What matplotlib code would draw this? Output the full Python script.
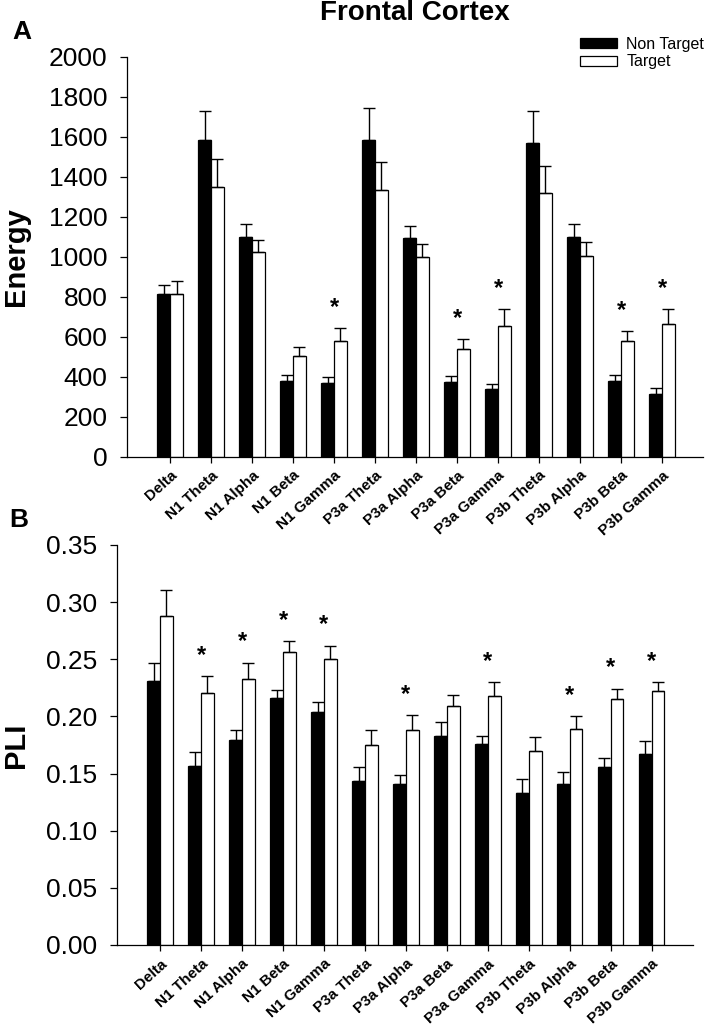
import numpy as np
import matplotlib
matplotlib.use('Agg')
import matplotlib.pyplot as plt
from matplotlib.ticker import FormatStrFormatter

plt.rcParams['font.family'] = ['Liberation Sans', 'DejaVu Sans']

bands = ['Delta', 'N1 Theta', 'N1 Alpha', 'N1 Beta', 'N1 Gamma',
         'P3a Theta', 'P3a Alpha', 'P3a Beta', 'P3a Gamma',
         'P3b Theta', 'P3b Alpha', 'P3b Beta', 'P3b Gamma']

# panel A - energy
energy_nt = [813, 1583, 1100, 380, 368, 1583, 1093, 375, 338, 1570, 1100, 380, 315]
energy_nt_err = [47, 147, 63, 30, 29, 159, 60, 28, 25, 160, 63, 30, 27]
energy_t = [813, 1350, 1023, 505, 577, 1332, 998, 538, 653, 1318, 1003, 577, 665]
energy_t_err = [67, 137, 59, 42, 65, 143, 65, 50, 84, 137, 72, 51, 72]
energy_sig = [4, 7, 8, 11, 12]

# panel B - PLI
pli_nt = [0.231, 0.157, 0.179, 0.2165, 0.204, 0.1435, 0.1406, 0.183, 0.176, 0.133, 0.1406, 0.156, 0.167]
pli_nt_err = [0.0155, 0.012, 0.009, 0.007, 0.009, 0.0125, 0.0084, 0.012, 0.0066, 0.012, 0.0108, 0.008, 0.0115]
pli_t = [0.288, 0.2205, 0.233, 0.256, 0.2505, 0.1747, 0.188, 0.209, 0.218, 0.170, 0.189, 0.215, 0.2226]
pli_t_err = [0.023, 0.0145, 0.014, 0.010, 0.0115, 0.0133, 0.0133, 0.010, 0.012, 0.012, 0.0114, 0.0093, 0.0074]
pli_sig = [1, 2, 3, 4, 6, 8, 10, 11, 12]

W, H = 707, 1027
fig = plt.figure(figsize=(W/100, H/100), dpi=100)
ax1 = fig.add_axes([126.7/W, 1-456.5/H, (703-126.7)/W, 400/H])
ax2 = fig.add_axes([116.7/W, 1-945/H, (692.7-116.7)/W, 400/H])


def panel(ax, nt, nt_err, t, t_err, sig, ymax, ystep, fmt, ylab, lab_x):
    x = np.arange(len(bands))
    w = 0.31
    n = len(bands)
    b1 = ax.bar(x - w/2, nt, w, color='black', edgecolor='black', linewidth=0.9, zorder=2)
    b2 = ax.bar(x + w/2, t, w, color='white', edgecolor='black', linewidth=0.9, zorder=2)
    ax.errorbar(x - w/2, nt, yerr=[np.zeros(n), nt_err], fmt='none', ecolor='black',
                elinewidth=1, capsize=4.5, capthick=1, zorder=3)
    ax.errorbar(x + w/2, t, yerr=[np.zeros(n), t_err], fmt='none', ecolor='black',
                elinewidth=1, capsize=4.5, capthick=1, zorder=3)
    for i in sig:
        ax.text(i, t[i] + t_err[i] + 0.052*ymax, '*', ha='center', va='center',
                fontsize=17, fontweight='bold')
    ax.set_xlim(-1.06, 13.0)
    ax.set_ylim(0, ymax)
    ax.set_yticks(np.arange(0, ymax + ystep/2, ystep))
    ax.yaxis.set_major_formatter(FormatStrFormatter(fmt))
    ax.set_xticks(x)
    ax.set_xticklabels(bands, rotation=42, ha='right', rotation_mode='anchor',
                       fontweight='bold', fontsize=11)
    for s in ['top', 'right']:
        ax.spines[s].set_visible(False)
    for s in ['left', 'bottom']:
        ax.spines[s].set_linewidth(0.9)
    ax.tick_params(axis='y', length=5, width=0.9, labelsize=19, pad=9)
    ax.tick_params(axis='x', length=4.5, width=0.9, pad=4)
    ax.set_ylabel(ylab, fontsize=21, fontweight='bold')
    ax.yaxis.set_label_coords(lab_x, 0.5)
    return b1, b2


b1, b2 = panel(ax1, energy_nt, energy_nt_err, energy_t, energy_t_err, energy_sig,
               2000, 200, '%d', 'Energy', (30-126.7)/576.3)
panel(ax2, pli_nt, pli_nt_err, pli_t, pli_t_err, pli_sig,
      0.35, 0.05, '%.2f', 'PLI', (30-116.7)/576)

ax1.legend([b1, b2], ['Non Target', 'Target'], loc='upper left',
           bbox_to_anchor=(580/W, 1-37/H), bbox_transform=fig.transFigure,
           frameon=False, fontsize=11.5, handlelength=2.3, handleheight=0.6,
           handletextpad=0.6, labelspacing=0.15, borderpad=0, borderaxespad=0)

fig.text(415/W, 1-20/H, 'Frontal Cortex', ha='center', va='baseline', fontsize=20, fontweight='bold')
fig.text(12/W, 1-39/H, 'A', ha='left', va='baseline', fontsize=19, fontweight='bold')
fig.text(9/W, 1-527/H, 'B', ha='left', va='baseline', fontsize=19, fontweight='bold')

fig.savefig('out.png', dpi=100)
